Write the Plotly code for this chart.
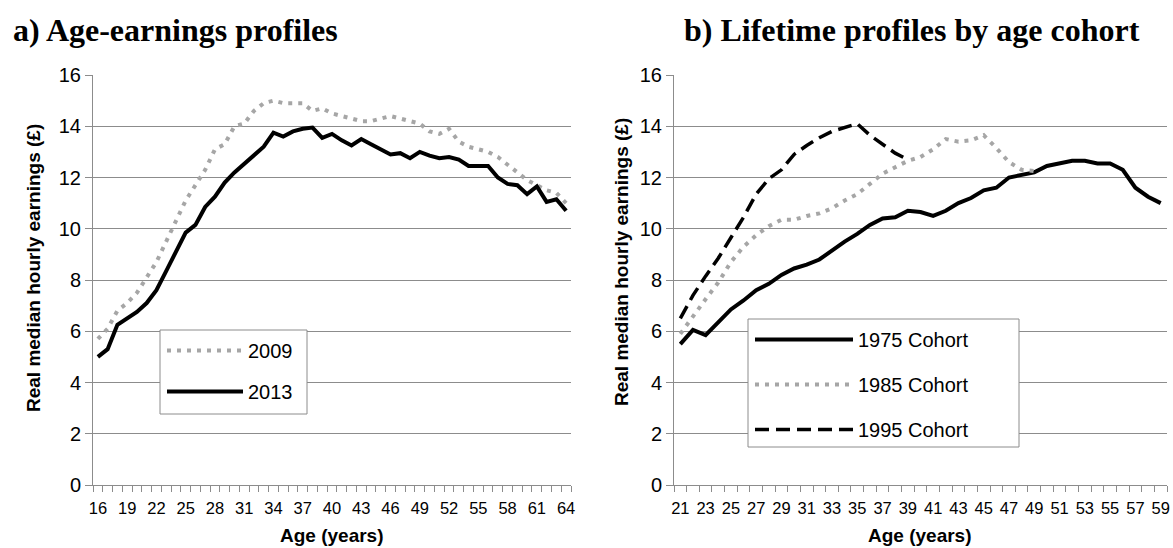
import plotly.graph_objects as go

# ---------------- data ----------------
ages_a = list(range(16, 65))
earn_2009 = [5.7, 6.1, 6.8, 7.1, 7.5, 8.1, 8.7, 9.5, 10.3, 11.1, 11.7, 12.3, 13.1, 13.3,
             14.0, 14.1, 14.6, 14.9, 15.0, 14.9, 14.9, 14.9, 14.6, 14.7, 14.5, 14.4, 14.3,
             14.2, 14.2, 14.3, 14.4, 14.3, 14.2, 14.1, 13.8, 13.7, 13.9, 13.4, 13.2, 13.1,
             13.0, 12.8, 12.5, 12.2, 11.9, 11.7, 11.5, 11.4, 11.0]
earn_2013 = [5.0, 5.3, 6.25, 6.5, 6.75, 7.1, 7.6, 8.35, 9.1, 9.85, 10.15, 10.85, 11.25, 11.8,
             12.2, 12.55, 12.85, 13.2, 13.75, 13.6, 13.8, 13.9, 13.95, 13.55, 13.7, 13.45,
             13.25, 13.5, 13.3, 13.1, 12.9, 12.95, 12.75, 13.0, 12.85, 12.75, 12.8, 12.7,
             12.45, 12.45, 12.45, 12.0, 11.75, 11.7, 11.35, 11.65, 11.05, 11.15, 10.7]

ages_b = list(range(21, 60))
cohort_1975 = [5.5, 6.05, 5.85, 6.35, 6.85, 7.2, 7.6, 7.85, 8.2, 8.45, 8.6, 8.8, 9.15, 9.5,
               9.8, 10.15, 10.4, 10.45, 10.7, 10.65, 10.5, 10.7, 11.0, 11.2, 11.5, 11.6,
               12.0, 12.1, 12.2, 12.45, 12.55, 12.65, 12.65, 12.55, 12.55, 12.3, 11.6,
               11.25, 11.0]
cohort_1985 = [5.9, 6.6, 7.25, 7.9, 8.7, 9.3, 9.75, 10.1, 10.35, 10.35, 10.5, 10.6, 10.8,
               11.1, 11.35, 11.75, 12.15, 12.4, 12.65, 12.8, 13.1, 13.5, 13.4, 13.45, 13.65,
               13.15, 12.6, 12.3, 12.25]
cohort_1995 = [6.5, 7.4, 8.15, 8.85, 9.65, 10.45, 11.35, 11.95, 12.3, 12.9, 13.25, 13.55,
               13.8, 13.95, 14.1, 13.65, 13.3, 12.95, 12.7]

ticks_a = list(range(16, 65, 3))
ticks_b = list(range(21, 60, 2))

# ---------------- styles ----------------
W, H = 1173, 548
GRID = "#8C8C8C"
DOT = "#A6A6A6"
SANS = "Liberation Sans, Arial, sans-serif"
SERIF = "Liberation Serif, Times New Roman, serif"
DOT_DASH = "4px,6px"
DASH = "14px,7px"

fig = go.Figure()

fig.add_trace(go.Scatter(x=ages_a, y=earn_2009, name="2009", mode="lines",
                         line=dict(color=DOT, width=4, dash=DOT_DASH),
                         xaxis="x", yaxis="y", legend="legend", legendgroup="a1"))
fig.add_trace(go.Scatter(x=ages_a, y=earn_2013, name="2013", mode="lines",
                         line=dict(color="black", width=4),
                         xaxis="x", yaxis="y", legend="legend", legendgroup="a2"))

fig.add_trace(go.Scatter(x=ages_b, y=cohort_1975, name="1975 Cohort", mode="lines",
                         line=dict(color="black", width=4),
                         xaxis="x2", yaxis="y2", legend="legend2", legendgroup="b1"))
fig.add_trace(go.Scatter(x=ages_b[:len(cohort_1985)], y=cohort_1985, name="1985 Cohort",
                         mode="lines", line=dict(color=DOT, width=4, dash=DOT_DASH),
                         xaxis="x2", yaxis="y2", legend="legend2", legendgroup="b2"))
fig.add_trace(go.Scatter(x=ages_b[:len(cohort_1995)], y=cohort_1995, name="1995 Cohort",
                         mode="lines", line=dict(color="black", width=3.5, dash=DASH),
                         xaxis="x2", yaxis="y2", legend="legend2", legendgroup="b3"))

def px(v):
    return v / W

def py(v):
    return 1 - v / H

ydom = [py(485), py(75)]

def xaxis(domain, lo, hi, tickvals, anchor):
    return dict(domain=domain, anchor=anchor, range=[lo - 0.5, hi + 0.5],
                tickmode="array", tickvals=tickvals, ticks="",
                showgrid=False, zeroline=False, showline=True, linecolor=GRID, linewidth=1,
                tickfont=dict(family=SANS, size=16.5, color="black"),
                ticklabelstandoff=8,
                minor=dict(ticks="outside", ticklen=6, tickcolor=GRID, tickwidth=1,
                           tickmode="linear", tick0=lo - 0.5, dtick=1, showgrid=False),
                automargin=False, fixedrange=True)

def yaxis(anchor):
    return dict(domain=ydom, anchor=anchor, range=[0, 16], tickmode="linear", tick0=0, dtick=2,
                ticks="outside", ticklen=7, tickcolor=GRID, tickwidth=1,
                showgrid=True, gridcolor=GRID, gridwidth=1, zeroline=False,
                showline=True, linecolor=GRID, linewidth=1,
                tickfont=dict(family=SANS, size=20, color="black"),
                automargin=False, fixedrange=True)

legend_common = dict(xanchor="left", yanchor="top", borderwidth=0,
                     bgcolor="rgba(0,0,0,0)",
                     font=dict(family=SANS, size=20, color="black"),
                     traceorder="grouped")

fig.update_layout(
    width=W, height=H,
    margin=dict(l=0, r=0, t=0, b=0),
    paper_bgcolor="white", plot_bgcolor="white",
    font=dict(family=SANS, color="black"),
    xaxis=xaxis([px(93), px(571)], 16, 64, ticks_a, "y"),
    yaxis=yaxis("x"),
    xaxis2=xaxis([px(674), px(1167)], 21, 59, ticks_b, "y2"),
    yaxis2=yaxis("x2"),
    legend=dict(x=px(162), y=py(331), tracegroupgap=12, itemwidth=76, **legend_common),
    legend2=dict(x=px(750), y=py(320), tracegroupgap=16, itemwidth=98, **legend_common),
    showlegend=True,
)

# legend frames (white boxes with grey border, drawn over the gridlines)
frames = [(160, 330, 307, 414), (748, 319, 1019, 447)]
fig.update_layout(shapes=[
    dict(type="rect", xref="paper", yref="paper", layer="above",
         x0=px(x0), x1=px(x1), y0=py(y1), y1=py(y0),
         line=dict(color=GRID, width=1), fillcolor="white")
    for (x0, y0, x1, y1) in frames
])

annotations = [
    dict(text="<b>a) Age-earnings profiles</b>", x=px(11), y=py(30), xanchor="left",
         yanchor="middle", font=dict(family=SERIF, size=32, color="black")),
    dict(text="<b>b) Lifetime profiles by age cohort</b>", x=px(682), y=py(30), xanchor="left",
         yanchor="middle", font=dict(family=SERIF, size=32, color="black")),
    dict(text="<b>Real median hourly earnings (£)</b>", x=px(33), y=py(268), textangle=-90,
         xanchor="center", yanchor="middle", font=dict(family=SANS, size=19, color="black")),
    dict(text="<b>Real median hourly earnings (£)</b>", x=px(621), y=py(262), textangle=-90,
         xanchor="center", yanchor="middle", font=dict(family=SANS, size=19, color="black")),
    dict(text="<b>Age (years)</b>", x=px(332), y=py(535), xanchor="center", yanchor="middle",
         font=dict(family=SANS, size=19, color="black")),
    dict(text="<b>Age (years)</b>", x=px(920), y=py(535), xanchor="center", yanchor="middle",
         font=dict(family=SANS, size=19, color="black")),
]
for a in annotations:
    a.update(xref="paper", yref="paper", showarrow=False)
fig.update_layout(annotations=annotations)

fig.write_html("out.html")
